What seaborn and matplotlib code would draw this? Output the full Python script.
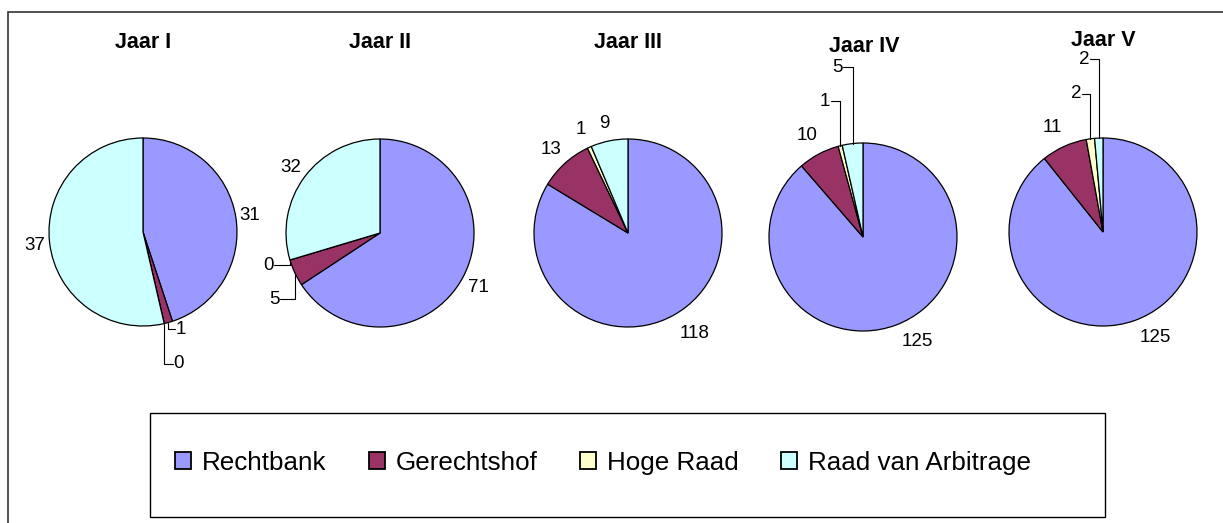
"""
    Verdeling van zaken per jaar - vijf taartdiagrammen
"""
import numpy as np
import seaborn as sns
import matplotlib.pyplot as plt
from matplotlib.patches import Patch, Rectangle

sns.set_theme(style='white')
plt.rcParams['font.family'] = ['Liberation Sans', 'DejaVu Sans']
plt.rcParams['text.color'] = 'black'

# data
years = ['Jaar I', 'Jaar II', 'Jaar III', 'Jaar IV', 'Jaar V']
categories = ['Rechtbank', 'Gerechtshof', 'Hoge Raad', 'Raad van Arbitrage']
rechtbank = [31, 71, 118, 125, 125]
gerechtshof = [1, 5, 13, 10, 11]
hoge_raad = [0, 0, 1, 1, 2]
arbitrage = [37, 32, 9, 5, 2]

colors = sns.color_palette(['#9999FF', '#993366', '#FFFFCC', '#CCFFFF'])

# layout (pixels, y measured from the top)
W, H = 1223, 523
R = 94
centers = [(143, 232), (380, 233), (628, 233), (863, 237), (1103, 232)]
title_pos = [(143, 42), (380, 43), (628, 43), (864, 46), (1103, 41)]
label_pos = [
    [(250, 215), (181, 329), (179, 364), (35, 245)],
    [(478, 287), (274, 299), (268, 265), (291, 167)],
    [(695, 333), (551, 149), (581, 129), (604, 123)],
    [(917, 342), (807, 136), (825, 101), (837, 67)],
    [(1155, 338), (1052, 128), (1076, 94), (1084, 59)],
]
leaders = [
    [False, True, True, False],
    [False, True, True, False],
    [False, False, False, False],
    [False, False, True, True],
    [False, False, True, True],
]

fig = plt.figure(figsize=(W / 100, H / 100), dpi=100)
ax = fig.add_axes([0, 0, 1, 1])

for i, year in enumerate(years):
    vals = [rechtbank[i], gerechtshof[i], hoge_raad[i], arbitrage[i]]
    cx, cy = centers[i]
    wedges, _ = ax.pie(vals, colors=colors, startangle=90, counterclock=False,
                       center=(cx, H - cy), radius=R, frame=True,
                       wedgeprops=dict(edgecolor='black', linewidth=0.9))
    tx, ty = title_pos[i]
    ax.text(tx, H - ty, year, ha='center', va='center',
            fontsize=15.5, fontweight='bold')
    for w, v, (lx, ly), lead in zip(wedges, vals, label_pos[i], leaders[i]):
        ax.text(lx, H - ly, str(v), ha='center', va='center', fontsize=13.5)
        if lead:
            theta = np.deg2rad((w.theta1 + w.theta2) / 2)
            px = w.center[0] + w.r * np.cos(theta)
            py = w.center[1] + w.r * np.sin(theta)
            sx = lx - 6 if px < lx else lx + 6
            ax.plot([sx, px, px], [H - ly, H - ly, py], color='black', lw=0.8)

# outer frame (only top and left visible) and legend box
ax.add_patch(Rectangle((8, -60), W + 100, H - 12 + 60, fill=False,
                       edgecolor='#333333', linewidth=1.2, clip_on=False))
ax.add_patch(Rectangle((150, H - 517), 955, 104, fill=False,
                       edgecolor='black', linewidth=1.0))

handles = [Patch(facecolor=c, edgecolor='black', linewidth=1.3, label=cat)
           for c, cat in zip(colors, categories)]
fig.legend(handles=handles, loc='center', bbox_to_anchor=(603 / W, 1 - 463 / H),
           ncol=4, frameon=False, fontsize=18.7, handlelength=0.62,
           handleheight=0.62, handletextpad=0.4, columnspacing=1.65)

ax.set_xlim(0, W)
ax.set_ylim(0, H)
ax.set_aspect('auto')
ax.axis('off')

plt.savefig('out.png', dpi=100)
